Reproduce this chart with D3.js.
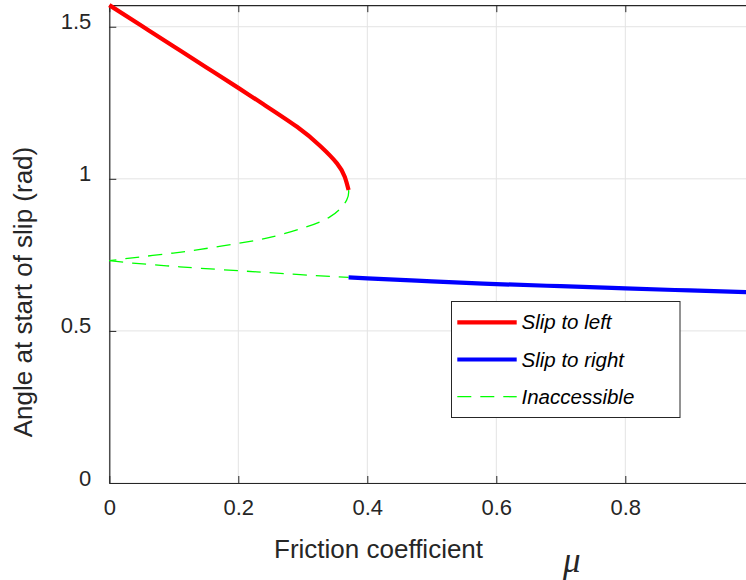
<!DOCTYPE html>
<html>
<head>
<meta charset="utf-8">
<script src="https://cdn.jsdelivr.net/npm/d3@7"></script>
<style>
  body { margin: 0; background: #fff; }
  svg { display: block; font-family: 'Liberation Sans', Arial, Helvetica, sans-serif; }
</style>
</head>
<body>
<div id="viz"></div>
<script>
// values
const slipLeftMu = [0, 0.05, 0.1, 0.15, 0.2, 0.239, 0.291, 0.327, 0.353, 0.365, 0.371];
const slipLeftAngle = [1.571, 1.503, 1.435, 1.367, 1.299, 1.245, 1.171, 1.108, 1.051, 1.007, 0.963];

const upperMu = [0.371, 0.368, 0.342, 0.291, 0.244, 0.2, 0.141, 0.099, 0.043, 0];
const upperAngle = [0.963, 0.930, 0.875, 0.832, 0.805, 0.788, 0.768, 0.756, 0.742, 0.731];
const lowerMu = [0, 0.036, 0.089, 0.141, 0.2, 0.244, 0.296, 0.347, 0.371];
const lowerAngle = [0.731, 0.723, 0.714, 0.706, 0.698, 0.692, 0.685, 0.679, 0.676];

const slipRightMu = [0.371, 0.4, 0.5, 0.6, 0.7, 0.8, 0.9, 1.0];
const slipRightAngle = [0.676, 0.673, 0.663, 0.654, 0.647, 0.640, 0.633, 0.627];

const xTicks = [0, 0.2, 0.4, 0.6, 0.8, 1];
const yTicks = [0, 0.5, 1, 1.5];
const legendLabels = ['Slip to left', 'Slip to right', 'Inaccessible'];

const width = 746;
const height = 580;
const axisColour = '#262626';
const gridColour = '#e3e3e3';

const x = d3.scaleLinear().domain([0, 1]).range([109.3, 754.3]);
const y = d3.scaleLinear().domain([0, Math.PI / 2]).range([483, 5.2]);

const svg = d3.select('#viz')
  .append('svg')
  .attr('width', width)
  .attr('height', height);

svg.append('rect')
  .attr('width', width)
  .attr('height', height)
  .attr('fill', '#fff');

// grid
svg.append('g')
  .selectAll('line')
  .data(xTicks)
  .enter()
  .append('line')
  .attr('x1', d => x(d)).attr('x2', d => x(d))
  .attr('y1', y.range()[0]).attr('y2', y.range()[1])
  .attr('stroke', gridColour);

svg.append('g')
  .selectAll('line')
  .data(yTicks)
  .enter()
  .append('line')
  .attr('x1', x.range()[0]).attr('x2', x.range()[1])
  .attr('y1', d => y(d)).attr('y2', d => y(d))
  .attr('stroke', gridColour);

// axes, MATLAB style ticks pointing inward
const xAxis = svg.append('g')
  .attr('transform', `translate(0, ${y(0)})`)
  .call(d3.axisBottom(x).tickValues(xTicks).tickSizeInner(-7).tickSizeOuter(0).tickPadding(16)
    .tickFormat(d3.format('~g')));

const xTop = svg.append('g')
  .attr('transform', `translate(0, ${y(Math.PI / 2)})`)
  .call(d3.axisTop(x).tickValues(xTicks).tickSizeInner(-7).tickSizeOuter(0).tickFormat(''));

const yAxis = svg.append('g')
  .attr('transform', `translate(${x(0)}, 0)`)
  .call(d3.axisLeft(y).tickValues(yTicks).tickSizeInner(-7).tickSizeOuter(0).tickPadding(18)
    .tickFormat(d3.format('~g')));

[xAxis, xTop, yAxis].forEach((g) => {
  g.select('.domain').attr('stroke', axisColour).attr('stroke-width', 1.2);
  g.selectAll('.tick line').attr('stroke', axisColour);
  g.selectAll('.tick text')
    .attr('fill', axisColour)
    .style('font-size', '22px')
    .style('font-family', "'Liberation Sans', Arial, sans-serif");
});
xAxis.selectAll('.tick text').attr('dy', 0).attr('y', 32);
yAxis.selectAll('.tick text').attr('dy', 0).attr('y', 2);

// curves
const smooth = d3.line()
  .x(d => x(d[0]))
  .y(d => y(d[1]))
  .curve(d3.curveNatural);

const pairs = (xs, ys) => xs.map((v, i) => [v, ys[i]]);

const plot = svg.append('g');

[pairs(upperMu, upperAngle), pairs(lowerMu, lowerAngle)].forEach((pts) => {
  plot.append('path')
    .datum(pts)
    .attr('d', smooth)
    .attr('fill', 'none')
    .attr('stroke', '#00ff00')
    .attr('stroke-width', 1.3)
    .attr('stroke-dasharray', '14,9');
});

plot.append('path')
  .datum(pairs(slipLeftMu, slipLeftAngle))
  .attr('d', smooth)
  .attr('fill', 'none')
  .attr('stroke', '#ff0000')
  .attr('stroke-width', 4.2);

plot.append('path')
  .datum(pairs(slipRightMu, slipRightAngle))
  .attr('d', smooth)
  .attr('fill', 'none')
  .attr('stroke', '#0000ff')
  .attr('stroke-width', 4.2);

// labels
svg.append('text')
  .attr('x', 274)
  .attr('y', 558)
  .attr('fill', axisColour)
  .style('font-size', '26px')
  .text('Friction coefficient');

svg.append('text')
  .attr('x', 563)
  .attr('y', 572)
  .attr('fill', axisColour)
  .style('font-size', '35px')
  .style('font-family', "'Liberation Serif', 'Times New Roman', serif")
  .style('font-style', 'italic')
  .text('μ');

svg.append('text')
  .attr('transform', 'translate(32, 292) rotate(-90)')
  .attr('text-anchor', 'middle')
  .attr('fill', axisColour)
  .style('font-size', '26px')
  .text('Angle at start of slip (rad)');

// legend
const legend = svg.append('g');
legend.append('rect')
  .attr('x', 451.5).attr('y', 301.5)
  .attr('width', 228.5).attr('height', 116)
  .attr('fill', '#fff')
  .attr('stroke', axisColour);

const legendStyles = [
  { colour: '#ff0000', w: 4.2, dash: null },
  { colour: '#0000ff', w: 4.2, dash: null },
  { colour: '#00ff00', w: 1.3, dash: '14,9' },
];

const items = legend.selectAll('g.item')
  .data(legendLabels)
  .enter()
  .append('g')
  .attr('class', 'item')
  .attr('transform', (d, i) => `translate(0, ${322.3 + i * 37.2})`);

items.append('line')
  .attr('x1', 457.3).attr('x2', 516.7)
  .attr('stroke', (d, i) => legendStyles[i].colour)
  .attr('stroke-width', (d, i) => legendStyles[i].w)
  .attr('stroke-dasharray', (d, i) => legendStyles[i].dash);

items.append('text')
  .attr('x', 521.5)
  .attr('y', 7)
  .attr('fill', '#000')
  .style('font-size', '20.5px')
  .style('font-style', 'italic')
  .text(d => d);
</script>
</body>
</html>
